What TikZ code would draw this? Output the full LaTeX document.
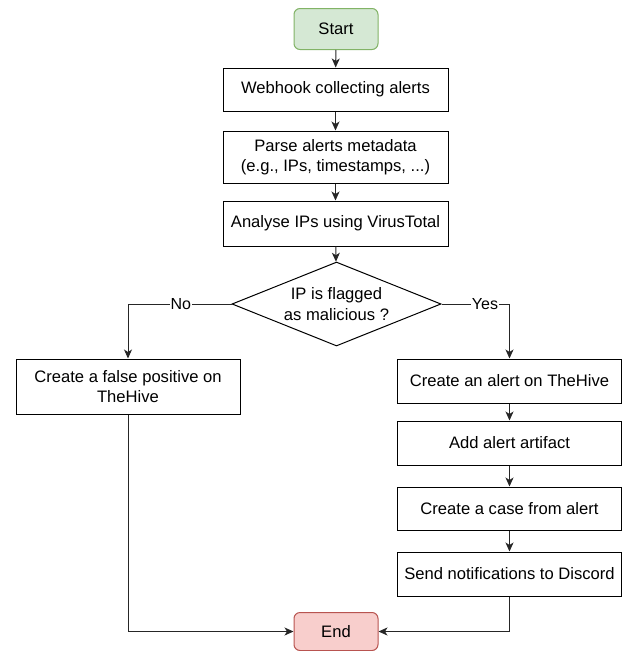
\documentclass[tikz,border=0pt]{standalone}
\usepackage{fontspec}
\setmainfont{Liberation Sans}
\usetikzlibrary{shapes.geometric,arrows.meta}
\definecolor{gfill}{HTML}{D5E8D4}
\definecolor{gdraw}{HTML}{82B366}
\definecolor{rfill}{HTML}{F8CECC}
\definecolor{rdraw}{HTML}{B85450}
\begin{document}
\begin{tikzpicture}[x=1pt,y=-1pt,
  every node/.style={font=\fontsize{16.6}{20.5}\selectfont},
  box/.style={draw=black,line width=1pt,rectangle,inner sep=0pt,align=center,minimum width=225pt,minimum height=44pt},
  term/.style={draw,line width=1pt,rectangle,rounded corners=6pt,inner sep=0pt,minimum width=84pt,minimum height=41pt},
  decision/.style={draw=black,line width=1pt,diamond,shape aspect=2.5,inner sep=0pt,align=center,minimum width=209pt,minimum height=84pt},
  conn/.style={draw=black!85,line width=1pt,-{Stealth[length=9pt,width=8pt,inset=2.5pt]}},
  lbl/.style={fill=white,inner sep=1pt,font=\fontsize{16}{19}\selectfont}]
\useasboundingbox (0,0) rectangle (622,651);
\node[term,fill=gfill,draw=gdraw] (start) at (336,29) {Start};
\node[box,minimum height=43pt] (webhook) at (335.5,89.5) {Webhook collecting alerts};
\node[box,minimum height=52pt] (parse) at (335.5,157) {Parse alerts metadata\\(e.g., IPs, timestamps, ...)};
\node[box,minimum height=45pt] (analyse) at (335.5,223.5) {Analyse IPs using VirusTotal};
\node[decision] (dec) at (336.5,304) {IP is flagged\\as malicious ?};
\node[box,minimum width=224pt,minimum height=55pt] (fp) at (128,386.5) {Create a false positive on\\TheHive};
\node[box,minimum width=224pt] (r1) at (509.5,381) {Create an alert on TheHive};
\node[box,minimum width=224pt] (r2) at (509.5,443) {Add alert artifact};
\node[box,minimum width=224pt,minimum height=43pt] (r3) at (509.5,508.5) {Create a case from alert};
\node[box,minimum width=224pt] (r4) at (509.5,574) {Send notifications to Discord};
\node[term,fill=rfill,draw=rdraw,minimum height=38pt] (end) at (336,631.5) {End};
\draw[conn] (start) -- (webhook);
\draw[conn] (webhook) -- (parse);
\draw[conn] (parse) -- (analyse);
\draw[conn] (analyse) -- (dec);
\draw[conn] (dec.west) -| node[lbl,pos=0.245] {No} (fp.north);
\draw[conn] (dec.east) -| node[lbl,pos=0.32] {Yes} (r1.north);
\draw[conn] (r1) -- (r2);
\draw[conn] (r2) -- (r3);
\draw[conn] (r3) -- (r4);
\draw[conn] (fp.south) |- (end.west);
\draw[conn] (r4.south) |- (end.east);
\end{tikzpicture}
\end{document}
